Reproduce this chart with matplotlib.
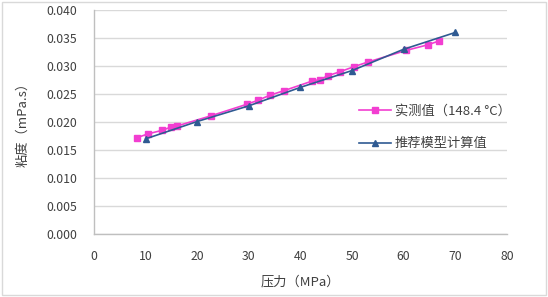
import matplotlib
matplotlib.use("Agg")
import matplotlib.pyplot as plt
from matplotlib.patches import Rectangle

plt.rcParams['font.family'] = ['Noto Sans CJK SC', 'DejaVu Sans']

# Data
meas_p = [8.3, 10.5, 13.1, 14.9, 16.1, 22.6, 29.7, 31.8, 34.1, 36.8,
          42.2, 43.8, 45.4, 47.7, 50.4, 53.0, 60.5, 64.7, 66.9]
meas_v = [0.0171, 0.0178, 0.0184, 0.0190, 0.0192, 0.0210, 0.0231, 0.0238, 0.0247, 0.0255,
          0.0272, 0.0275, 0.0282, 0.0289, 0.0298, 0.0306, 0.0327, 0.0337, 0.0344]
model_p = [10, 20, 30, 40, 50, 60, 70]
model_v = [0.0169, 0.0200, 0.0228, 0.0261, 0.0291, 0.0329, 0.0359]

xticks = [0, 10, 20, 30, 40, 50, 60, 70, 80]
yticks = [0.000, 0.005, 0.010, 0.015, 0.020, 0.025, 0.030, 0.035, 0.040]

label_meas = "实测值（148.4 °C）"
label_model = "推荐模型计算值"
xlabel = "压力（MPa）"
ylabel = "粘度（mPa.s）"

fig = plt.figure(figsize=(5.48, 2.97), dpi=100)
fig.patches.append(Rectangle((0.004, 0.006), 0.992, 0.988, transform=fig.transFigure,
                             fill=False, edgecolor='#d9d9d9', linewidth=1.0))
ax = fig.add_axes([0.1715, 0.2138, 0.7535, 0.7542])

pink = '#f23ed1'
blue = '#2f5a92'
ax.plot(meas_p, meas_v, color=pink, marker='s', markersize=4.3, linewidth=1.2,
        label=label_meas, zorder=3)
ax.plot(model_p, model_v, color=blue, marker='^', markersize=5.0, linewidth=1.2,
        label=label_model, zorder=4)

ax.set_xlim(0, 80)
ax.set_ylim(0, 0.040)
ax.set_xticks(xticks)
ax.set_yticks(yticks)
ax.set_xticklabels([str(v) for v in xticks])
ax.set_yticklabels([f"{v:.3f}" for v in yticks])
ax.tick_params(axis='both', length=0, labelsize=8.8, colors='#404040')
ax.tick_params(axis='x', pad=12)
ax.tick_params(axis='y', pad=12)
ax.grid(axis='y', color='#d9d9d9', linewidth=1.0)
ax.set_axisbelow(True)
for s in ['top', 'right']:
    ax.spines[s].set_visible(False)
for s in ['left', 'bottom']:
    ax.spines[s].set_color('#bfbfbf')
    ax.spines[s].set_linewidth(1.0)

ax.set_xlabel(xlabel, fontsize=9.5, color='#404040', labelpad=9)
ax.set_ylabel(ylabel, fontsize=9.5, color='#404040', labelpad=12)

fig.legend(loc='upper left', bbox_to_anchor=(0.655, 0.648), frameon=False,
           prop={'size': 9.5, 'weight': 'medium'},
           handlelength=2.4, handletextpad=0.3, labelspacing=1.5,
           borderpad=0, borderaxespad=0, labelcolor='#404040')

fig.savefig("out.png", dpi=100)
